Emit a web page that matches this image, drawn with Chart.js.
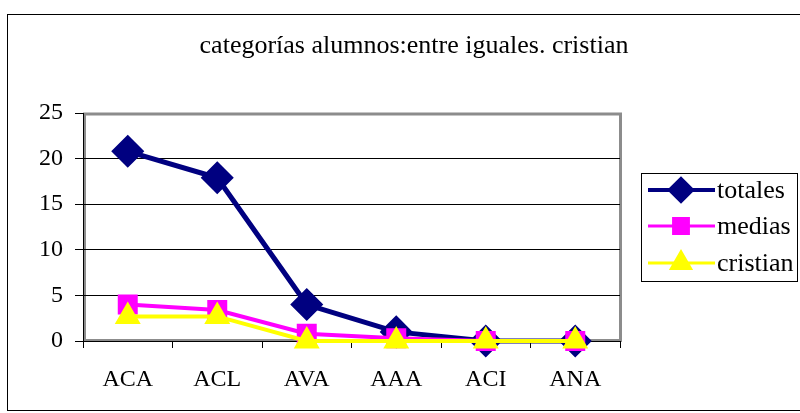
<!DOCTYPE html>
<html>
<head>
<meta charset="utf-8">
<script src="https://cdn.jsdelivr.net/npm/chart.js@4/dist/chart.umd.min.js"></script>
<style>
  html, body { margin: 0; padding: 0; background: #fff; }
  #wrap { width: 800px; height: 413px; }
</style>
</head>
<body>
<div id="wrap"><canvas id="chart" width="800" height="413"></canvas></div>
<script>
const categories = ['ACA', 'ACL', 'AVA', 'AAA', 'ACI', 'ANA'];
const totales = [20.8, 17.9, 4, 1, 0, 0];
const medias = [4, 3.4, 0.8, 0.3, 0, 0];
const cristian = [2.7, 2.7, 0, 0, 0, 0];
const yTicks = [0, 5, 10, 15, 20, 25];
const titleText = 'categorías alumnos:entre iguales. cristian';

const serif = '"Times New Roman", "Liberation Serif", serif';

// frame, title, gray plot border and the legend box
const decor = {
    id: 'decor',
    beforeDraw(chart) {
        const ctx = chart.ctx;
        const a = chart.chartArea;
        ctx.save();
        ctx.fillStyle = '#fff';
        ctx.fillRect(0, 0, chart.width, chart.height);
        ctx.strokeStyle = '#000';
        ctx.lineWidth = 1;
        ctx.strokeRect(7.5, 14.5, 820, 396);
        ctx.fillStyle = '#000';
        ctx.font = '26px ' + serif;
        ctx.textAlign = 'center';
        ctx.textBaseline = 'middle';
        ctx.fillText(titleText, 414, 46);
        // gray frame of the plot area
        ctx.strokeStyle = '#8c8c8c';
        ctx.lineWidth = 3;
        ctx.strokeRect(a.left + 1.5, a.top + 1, a.right - a.left - 1, a.bottom - a.top - 1.5);
        ctx.restore();
    },
    afterDraw(chart) {
        const ctx = chart.ctx;
        ctx.save();
        ctx.strokeStyle = '#000';
        ctx.lineWidth = 1;
        ctx.strokeRect(641.5, 173.5, 156, 108);
        const rows = [190, 226, 263];
        const legendRadius = [11, 10.5, 11];
        const legendWidth = [4, 3, 3];
        chart.data.datasets.forEach((ds, i) => {
            const y = rows[i];
            ctx.strokeStyle = ds.borderColor;
            ctx.lineWidth = legendWidth[i];
            ctx.beginPath();
            ctx.moveTo(648, y);
            ctx.lineTo(715, y);
            ctx.stroke();
            ctx.fillStyle = ds.pointBackgroundColor;
            ctx.strokeStyle = ds.pointBorderColor;
            Chart.helpers.drawPoint(ctx, {
                pointStyle: ds.pointStyle,
                radius: legendRadius[i],
                borderWidth: 1,
                rotation: 0
            }, 681, y);
            ctx.fillStyle = '#000';
            ctx.font = '26px ' + serif;
            ctx.textAlign = 'left';
            ctx.textBaseline = 'middle';
            ctx.fillText(ds.label, 717, y + 1);
        });
        ctx.restore();
    }
};

new Chart(document.getElementById('chart'), {
    type: 'line',
    data: {
        labels: categories,
        datasets: [{
            label: 'totales',
            data: totales,
            borderColor: '#000080',
            backgroundColor: '#000080',
            pointBackgroundColor: '#000080',
            pointBorderColor: '#000080',
            borderWidth: 5,
            pointStyle: 'rectRot',
            pointRadius: 13,
            clip: false,
            order: 2
        }, {
            label: 'medias',
            data: medias,
            borderColor: '#FF00FF',
            backgroundColor: '#FF00FF',
            pointBackgroundColor: '#FF00FF',
            pointBorderColor: '#FF00FF',
            borderWidth: 4,
            pointStyle: 'rect',
            pointRadius: 11.3,
            clip: false,
            order: 1
        }, {
            label: 'cristian',
            data: cristian,
            borderColor: '#FFFF00',
            backgroundColor: '#FFFF00',
            pointBackgroundColor: '#FFFF00',
            pointBorderColor: '#FFFF00',
            borderWidth: 4,
            pointStyle: 'triangle',
            pointRadius: 11,
            clip: false,
            order: 0
        }]
    },
    options: {
        responsive: false,
        animation: false,
        events: [],
        layout: { padding: { top: 113, right: 180, bottom: 0, left: 0 } },
        plugins: {
            legend: { display: false },
            title: { display: false },
            tooltip: { enabled: false }
        },
        scales: {
            x: {
                offset: true,
                afterFit: s => { s.height = 72; },
                grid: {
                    offset: true,
                    drawOnChartArea: false,
                    drawTicks: true,
                    tickLength: 7,
                    color: '#000'
                },
                border: { display: true, color: '#000', width: 1 },
                ticks: {
                    color: '#000',
                    font: { family: serif, size: 24 },
                    padding: 17,
                    maxRotation: 0
                }
            },
            y: {
                min: 0,
                max: 25,
                afterFit: s => { s.width = 83; },
                afterBuildTicks: s => { s.ticks = yTicks.map(v => ({ value: v })); },
                grid: {
                    color: c => (c.tick && c.tick.value === 25) ? 'rgba(0,0,0,0)' : '#000',
                    tickColor: '#000',
                    tickLength: 8,
                    drawTicks: true
                },
                border: { display: true, color: '#000', width: 1 },
                ticks: {
                    color: '#000',
                    font: { family: serif, size: 24 },
                    padding: 12
                }
            }
        }
    },
    plugins: [decor]
});
</script>
</body>
</html>
